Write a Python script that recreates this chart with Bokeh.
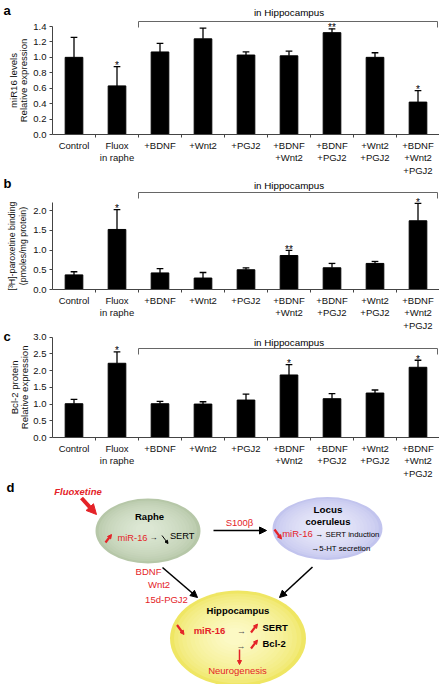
import numpy as np
from bokeh.plotting import figure
from bokeh.models import (Range1d, FixedTicker, PrintfTickFormatter, Arrow, NormalHead,
                          ColumnDataSource)
from bokeh.layouts import column
from bokeh.embed import file_html
from bokeh.resources import INLINE
from bokeh.core.properties import value

# ---------------- data ----------------
categories = ["Control", "Fluox\nin raphe", "+BDNF", "+Wnt2", "+PGJ2",
              "+BDNF\n+Wnt2", "+BDNF\n+PGJ2", "+Wnt2\n+PGJ2", "+BDNF\n+Wnt2\n+PGJ2"]
hippo_first = 2  # index of first "in Hippocampus" category

mir16_mean = [1.00, 0.63, 1.07, 1.24, 1.03, 1.02, 1.32, 1.00, 0.42]
mir16_err = [0.26, 0.25, 0.11, 0.14, 0.04, 0.06, 0.05, 0.06, 0.15]
mir16_sig = ["", "*", "", "", "", "", "**", "", "*"]
mir16_ticks = [0.0, 0.2, 0.4, 0.6, 0.8, 1.0, 1.2, 1.4]

parox_mean = [0.37, 1.52, 0.42, 0.29, 0.50, 0.86, 0.55, 0.66, 1.74]
parox_err = [0.08, 0.50, 0.11, 0.14, 0.05, 0.13, 0.11, 0.05, 0.44]
parox_sig = ["", "*", "", "", "", "**", "", "", "*"]
parox_ticks = [0.0, 0.5, 1.0, 1.5, 2.0]

bcl2_mean = [1.01, 2.22, 1.01, 1.00, 1.12, 1.87, 1.16, 1.33, 2.10]
bcl2_err = [0.13, 0.34, 0.07, 0.07, 0.18, 0.31, 0.15, 0.09, 0.21]
bcl2_sig = ["", "*", "", "", "", "*", "", "", "*"]
bcl2_ticks = [0.0, 0.5, 1.0, 1.5, 2.0, 2.5, 3.0]

FONT = "Liberation Sans"
RED = "#e42328"
AXC = "#444444"
W = 439
X0_PX, CAT_PX = 52.0, 43.0   # left edge of category axis and width of one category (px)


def x_of(px):
    return (px - X0_PX) / CAT_PX - 0.5


def bar_panel(letter, mean, err, sig, ylabels, ylab_px, ylab_size, yticks, axis_top,
              fig_top, height, zero_px, unit_px, text_px, bracket_px, drop_px, letter_px):
    n = len(categories)

    def y_of(py):
        return (zero_px - py) / unit_px

    p = figure(width=W, height=height,
               x_range=Range1d(x_of(0), x_of(W)),
               y_range=Range1d(y_of(fig_top + height), y_of(fig_top)),
               output_backend="svg", toolbar_location=None, min_border=0)
    p.outline_line_color = None
    p.grid.visible = False
    centers = np.arange(n)
    tops = np.array(mean) + np.array(err)
    src = ColumnDataSource(dict(x=centers, mean=mean, top=tops, sig=sig))
    p.vbar(x="x", top="mean", bottom=0, width=0.41, source=src,
           fill_color="black", line_color="black")
    p.segment(x0="x", y0="mean", x1="x", y1="top", source=src,
              line_color="black", line_width=1.3)
    p.segment(x0=centers - 0.078, y0=tops, x1=centers + 0.078, y1=tops,
              line_color="black", line_width=1.3)
    p.text(x="x", y="top", text="sig", source=src, text_align="center",
           text_baseline="alphabetic", y_offset=-1,
           text_font=value(FONT), text_font_size="10px", text_color="black")
    # tick marks between categories
    bounds_x = np.arange(n + 1) - 0.5
    p.segment(x0=bounds_x[1:], y0=0, x1=bounds_x[1:], y1=-3.0 / unit_px,
              line_color=AXC, line_width=1)
    # bracket "in Hippocampus"
    bx0, bx1 = hippo_first - 0.5, x_of(437)
    p.line(x=[bx0, bx0, bx1, bx1], y=[y_of(drop_px), y_of(bracket_px), y_of(bracket_px), y_of(drop_px)],
           line_color="#666666", line_width=1)
    p.text(x=[(hippo_first - 0.5 + n - 0.5) / 2], y=[y_of(text_px)], text=["in Hippocampus"],
           text_align="center", text_baseline="middle",
           text_font=value(FONT), text_font_size="9.8px", text_color="black")
    # panel letter
    p.text(x=[x_of(3)], y=[y_of(letter_px)], text=[letter], text_align="left",
           text_baseline="middle", text_font=value(FONT), text_font_size="13px",
           text_font_style="bold", text_color="black")
    # y axis title (two rotated lines)
    p.text(x=[x_of(ylab_px[0]), x_of(ylab_px[1])], y=[axis_top / 2] * 2, text=ylabels,
           angle=np.pi / 2, text_align="center", text_baseline="middle",
           text_font=value(FONT), text_font_size=ylab_size, text_color="#111111")
    # axes
    ya = p.yaxis[0]
    ya.fixed_location = -0.5
    ya.ticker = FixedTicker(ticks=yticks)
    ya.bounds = (0, axis_top)
    ya.formatter = PrintfTickFormatter(format="%.1f")
    ya.major_label_text_font = FONT
    ya.major_label_text_font_size = "9.5px"
    ya.major_label_text_color = "#111111"
    ya.major_tick_out = 3
    ya.major_tick_in = 0
    ya.minor_tick_line_color = None
    ya.major_label_standoff = 3
    ya.axis_line_color = AXC
    ya.major_tick_line_color = AXC
    xa = p.xaxis[0]
    xa.fixed_location = 0
    xa.bounds = (-0.5, n - 0.5)
    xa.ticker = FixedTicker(ticks=list(range(n)))
    xa.major_label_overrides = {i: c for i, c in enumerate(categories)}
    xa.major_tick_line_color = None
    xa.major_tick_out = 0
    xa.major_tick_in = 0
    xa.minor_tick_line_color = None
    xa.axis_line_color = AXC
    xa.major_label_text_font = FONT
    xa.major_label_text_font_size = "9.5px"
    xa.major_label_text_line_height = 1.15
    xa.major_label_text_color = "#111111"
    xa.major_label_standoff = 5
    return p


pa = bar_panel("a", mir16_mean, mir16_err, mir16_sig,
               ["miR16 levels", "Relative expression"], (13, 23), "9.6px",
               mir16_ticks, 1.4, 0, 176, 134, 108 / 1.4, 12, 21, 27, 10)
pb = bar_panel("b", parox_mean, parox_err, parox_sig,
               ["[³H]-paroxetine binding", "(pmoles/mg protein)"], (11, 22), "8.8px",
               parox_ticks, 2.2, 176, 154, 289, 79 / 2.0, 184.5, 192, 198, 183)
pc = bar_panel("c", bcl2_mean, bcl2_err, bcl2_sig,
               ["Bcl-2 protein", "Relative expression"], (14, 24), "9.6px",
               bcl2_ticks, 3.0, 330, 150, 437, 100.3 / 3.0, 342, 348, 354, 336)

# ---------------- diagram (panel d) ----------------
d = figure(width=W, height=204, x_range=Range1d(0, W), y_range=Range1d(684, 480),
           output_backend="svg", toolbar_location=None, min_border=0,
           x_axis_location=None, y_axis_location=None)
d.outline_line_color = None
d.grid.visible = False


def hex2rgb(h):
    h = h.lstrip("#")
    return np.array([int(h[i:i + 2], 16) for i in (0, 2, 4)], dtype=float)


def gradient_ellipse(cx, cy, w, h, edge, center, n=14):
    e, c = hex2rgb(edge), hex2rgb(center)
    for i in range(n):
        t = i / (n - 1)
        s = 1.0 - 0.82 * t
        col = e + (c - e) * (t ** 0.6)
        colhex = "#%02x%02x%02x" % tuple(int(round(v)) for v in col)
        d.ellipse(x=cx - 3 * t, y=cy - 2 * t, width=w * s, height=h * s,
                  fill_color=colhex, line_color=None)


def txt(x, y, s, color="black", size="9.5px", style="normal", align="center"):
    d.text(x=[x], y=[y], text=[s], text_align=align, text_baseline="middle",
           text_font=value(FONT), text_font_size=size, text_font_style=style,
           text_color=color)


def arr(x0, y0, x1, y1, color="black", lw=1.5, size=7):
    d.add_layout(Arrow(x_start=x0, y_start=y0, x_end=x1, y_end=y1,
                       line_color=color, line_width=lw,
                       end=NormalHead(size=size, fill_color=color, line_color=color,
                                      line_width=1)))


gradient_ellipse(147.5, 530.5, 105, 65, "#b6c7a8", "#dce7d3")
gradient_ellipse(327, 528, 110, 63, "#c2c4ee", "#e9e9f9")
gradient_ellipse(237.5, 638, 136, 96, "#efe663", "#fcf9c4")

txt(6, 487, "d", size="13px", style="bold", align="left")
txt(77.5, 491, "Fluoxetine", color=RED, size="9.5px", style="bold italic")
arr(81, 497.5, 96, 514, color=RED, lw=4, size=10)

txt(149, 516, "Raphe", size="9.5px", style="bold")
arr(105, 542, 111, 534, color=RED, lw=2.2, size=4)
txt(132, 537, "miR-16", color=RED, size="9.3px")
txt(153, 537, "→", size="8px")
arr(161.5, 535, 167.5, 543, color="black", lw=1, size=3)
txt(181.7, 535.5, "SERT", size="9.3px")

arr(213, 530, 266, 530, lw=1.6, size=7)
txt(239, 522, "S100β", color=RED, size="9.5px")

txt(327.5, 508.5, "Locus", size="9.8px", style="bold")
txt(327.5, 520.5, "coeruleus", size="9.5px", style="bold")
arr(274, 529, 281, 538.5, color=RED, lw=2.2, size=4)
txt(297, 532.5, "miR-16", color=RED, size="9.5px")
txt(315, 534, "→ SERT induction", size="7.8px", align="left")
txt(311, 547.7, "→5-HT secretion", size="7.8px", align="left")

arr(312, 566.5, 279, 597, lw=1.6, size=7)
arr(162, 567, 197, 597, lw=1.6, size=7)
txt(148, 570.5, "BDNF", color=RED, size="9.5px")
txt(158.5, 583.5, "Wnt2", color=RED, size="9.5px")
txt(166, 598.5, "15d-PGJ2", color=RED, size="9.5px")

txt(237.5, 609.5, "Hippocampus", size="9.5px", style="bold")
arr(176.5, 624.5, 183.5, 634, color=RED, lw=2.2, size=4)
txt(209, 630, "miR-16", color=RED, size="9.5px", style="bold")
txt(241, 630, "→", color="#555555", size="9px")
arr(250.5, 632, 257, 623.5, color=RED, lw=2.2, size=4)
txt(262, 627, "SERT", size="9.5px", style="bold", align="left")
txt(240.5, 645.5, "→", color="#555555", size="9px")
arr(250.5, 648, 257, 639.5, color=RED, lw=2.2, size=4)
txt(262, 643, "Bcl-2", size="9.5px", style="bold", align="left")
arr(239, 649, 239, 664, color=RED, lw=1.5, size=4)
txt(237, 670, "Neurogenesis", color=RED, size="9.5px")

layout = column(pa, pb, pc, d)
open("out.html", "w").write(file_html(layout, INLINE))
